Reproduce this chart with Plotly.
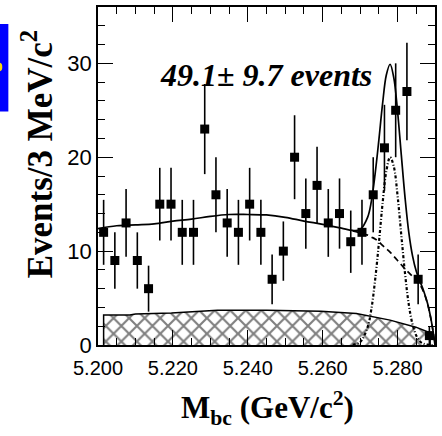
import plotly.graph_objects as go

# ---- data points (3 MeV bins) ----
bin_centers = [5.2015, 5.2045, 5.2075, 5.2105, 5.2135, 5.2165, 5.2195, 5.2225, 5.2255, 5.2285,
               5.2315, 5.2345, 5.2375, 5.2405, 5.2435, 5.2465, 5.2495, 5.2525, 5.2555, 5.2585,
               5.2615, 5.2645, 5.2675, 5.2705, 5.2735, 5.2765, 5.2795, 5.2825, 5.2855, 5.2885]
counts = [12, 9, 13, 9, 6, 15, 15, 12, 12, 23,
          16, 13, 12, 15, 12, 7, 10, 20, 14, 17,
          13, 14, 11, 12, 16, 21, 25, 27, 7, 1]
count_errors = [3.46, 3.0, 3.61, 3.0, 2.45, 3.87, 3.87, 3.46, 3.46, 4.80,
                4.0, 3.61, 3.46, 3.87, 3.46, 2.65, 3.16, 4.47, 3.74, 4.12,
                3.61, 3.74, 3.32, 3.46, 4.0, 4.58, 5.0, 5.20, 2.65, 1.0]

# ---- fit curves ----
curve_x = [5.200, 5.205, 5.210, 5.215, 5.220, 5.225, 5.230, 5.235, 5.240, 5.245,
           5.250, 5.255, 5.260, 5.265, 5.268, 5.270, 5.272, 5.273, 5.274, 5.275,
           5.276, 5.277, 5.278, 5.279, 5.280, 5.281, 5.282, 5.283, 5.284, 5.285,
           5.286, 5.287, 5.288, 5.289, 5.2895, 5.290]
total_fit = [12.4, 12.7, 12.8, 12.9, 13.2, 13.4, 13.7, 13.9, 13.9, 13.85,
             13.6, 13.2, 12.85, 12.45, 12.2, 12.3, 13.6, 15.3, 18.2, 21.8,
             25.7, 28.75, 29.9, 28.45, 24.9, 20.25, 15.7, 12.0, 9.5, 7.85,
             6.77, 5.73, 4.44, 2.6, 1.4, 0.0]
background_fit = [12.4, 12.7, 12.8, 12.9, 13.2, 13.4, 13.7, 13.9, 13.9, 13.85,
                  13.6, 13.2, 12.85, 12.45, 12.15, 11.95, 11.7, 11.5, 11.3, 11.0,
                  10.6, 10.25, 9.9, 9.45, 9.0, 8.55, 8.1, 7.7, 7.3, 6.85,
                  6.4, 5.6, 4.4, 2.6, 1.4, 0.0]
signal_fit = [0, 0, 0, 0, 0, 0, 0, 0, 0, 0,
              0, 0, 0, 0, 0.03, 0.31, 1.9, 3.8, 6.9, 10.8,
              15.1, 18.5, 20.0, 19.0, 15.9, 11.7, 7.6, 4.3, 2.2, 1.0,
              0.37, 0.13, 0.04, 0.0, 0.0, 0.0]

# ---- hatched (peaking / other) background ----
hatch_x = [5.2015, 5.2015, 5.2085, 5.2100, 5.2196, 5.2284, 5.2319, 5.2451, 5.2595,
           5.2690, 5.2780, 5.2849, 5.2887, 5.2887]
hatch_y = [0, 3.2, 3.2, 3.3, 3.4, 3.6, 3.7, 3.7, 3.6, 3.35, 2.65, 1.9, 1.3, 0]

x_tickvals = [5.20, 5.22, 5.24, 5.26, 5.28]
x_ticktext = ["5.200", "5.220", "5.240", "5.260", "5.280"]
y_tickvals = [0, 10, 20, 30]

fig = go.Figure()

fig.add_trace(go.Scatter(
    x=hatch_x, y=hatch_y, mode="lines", fill="tozeroy",
    line=dict(color="black", width=1.5),
    fillcolor="white",
    fillpattern=dict(shape="x", fgcolor="black", bgcolor="white", size=11, solidity=0.35),
    hoverinfo="skip", showlegend=False))

# dash-dot signal
sig_x = [v for v in curve_x if v >= 5.266]
sig_y = [s for v, s in zip(curve_x, signal_fit) if v >= 5.266]
fig.add_trace(go.Scatter(
    x=sig_x, y=sig_y,
    mode="lines", line=dict(color="black", width=2.2, dash="3px,2px,1px,2px", shape="spline"),
    showlegend=False))

# dashed background (visible only where it departs from the total)
bg_x = [v for v in curve_x if v >= 5.268]
bg_y = [b for v, b in zip(curve_x, background_fit) if v >= 5.268]
fig.add_trace(go.Scatter(
    x=bg_x, y=bg_y,
    mode="lines", line=dict(color="black", width=1.7, dash="6px,4px", shape="spline"),
    showlegend=False))

# total fit
fig.add_trace(go.Scatter(
    x=curve_x, y=total_fit, mode="lines",
    line=dict(color="black", width=1.7, shape="spline"),
    showlegend=False))

# data
fig.add_trace(go.Scatter(
    x=bin_centers, y=counts, mode="markers",
    marker=dict(symbol="square", size=9, color="black"),
    error_y=dict(type="data", array=count_errors, color="black", thickness=1.6, width=0),
    showlegend=False))

fig.update_layout(
    width=442, height=436,
    margin=dict(l=98, r=5, t=5, b=91),
    paper_bgcolor="white", plot_bgcolor="white",
    showlegend=False,
)

fig.update_xaxes(
    range=[5.2, 5.29], showgrid=False, zeroline=False,
    showline=True, linecolor="black", linewidth=1.8, mirror="ticks",
    ticks="inside", ticklen=15, tickwidth=1.3, tickcolor="black",
    tickvals=x_tickvals, ticktext=x_ticktext, ticklabelstandoff=4,
    tickfont=dict(family="Liberation Sans", size=20, color="black"),
    minor=dict(ticks="inside", ticklen=7, tickwidth=1.2, tickcolor="black", dtick=0.005, showgrid=False),
)
fig.update_yaxes(
    range=[0, 36], showgrid=False, zeroline=False,
    showline=True, linecolor="black", linewidth=1.8, mirror="ticks",
    ticks="inside", ticklen=15, tickwidth=1.3, tickcolor="black",
    tickvals=y_tickvals,
    tickfont=dict(family="Liberation Sans", size=22, color="black"),
    minor=dict(ticks="inside", ticklen=7, tickwidth=1.2, tickcolor="black", dtick=2, showgrid=False),
)

fig.add_annotation(
    text="<b><i>49.1\u00b1 9.7 events</i></b>",
    xref="paper", yref="paper", x=0.4985, y=0.80, xanchor="center", yanchor="middle",
    showarrow=False, font=dict(family="Liberation Serif", size=32, color="black"))

fig.add_annotation(
    text="<b>Events/3 MeV/c<sup>2</sup></b>",
    xref="paper", yref="paper", x=-0.18, y=0.565, xanchor="center", yanchor="middle",
    textangle=-90, showarrow=False, font=dict(family="Liberation Serif", size=35, color="black"))

fig.add_annotation(
    text="<b>M<sub>bc</sub> (GeV/c<sup>2</sup>)</b>",
    xref="paper", yref="paper", x=0.504, y=-0.185, xanchor="center", yanchor="middle",
    showarrow=False, font=dict(family="Liberation Serif", size=31, color="black"))

# blue scrap at the top-left edge of the scan
fig.add_shape(type="rect", xref="paper", yref="paper",
              x0=-0.295, x1=-0.266, y0=0.691, y1=0.95,
              fillcolor="#0000ff", line=dict(width=0), layer="above")
fig.add_shape(type="circle", xref="paper", yref="paper",
              x0=-0.300, x1=-0.284, y0=0.81, y1=0.835,
              fillcolor="#ffdd00", line=dict(width=0), layer="above")

fig.write_html("out.html")
